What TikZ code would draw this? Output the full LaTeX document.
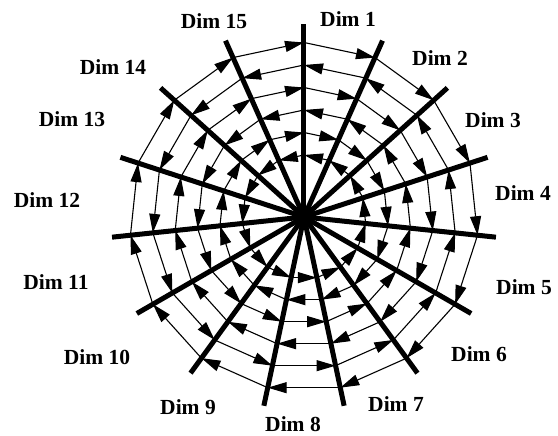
\documentclass[tikz,border=0pt]{standalone}
\usepackage{fontspec}
\setmainfont{Liberation Serif}
\usetikzlibrary{arrows.meta}

\begin{document}
\begin{tikzpicture}[
				x=1pt, y=1pt,
				spoke/.style={line width=5pt},
				ring/.style={line width=1.1pt, -{Triangle[length=19pt, width=11pt]}},
				dimlabel/.style={font=\fontsize{21.5}{24}\selectfont\bfseries, inner sep=0pt}
			]

			\useasboundingbox (-304,-219) rectangle (254,217);
			\coordinate (c) at (0,0);

			% spoke ends and ring corners
			\foreach \k in {1,...,15} {
				\coordinate (s\k) at ({114-24*\k}:193);
				\foreach \i/\r in {1/62,2/84.5,3/107,4/129.5,5/152,6/174.5}
					\coordinate (r\i-\k) at ({114-24*\k}:\r);
			}

			% rings, odd ones counter-clockwise
			\foreach \k [evaluate=\k as \nxt using {int(mod(\k,15)+1)}] in {1,...,15} {
				\foreach \i in {1,...,6} {
					\ifodd\i
						\draw[ring] (r\i-\nxt) -- (r\i-\k);
					\else
						\draw[ring] (r\i-\k) -- (r\i-\nxt);
					\fi
				}
			}

			\foreach \k in {1,...,15}
				\draw[spoke] (c) -- (s\k);

			\node[dimlabel] (d1) at (44,198) {Dim 1};
			\node[dimlabel] (d2) at (136,159) {Dim 2};
			\node[dimlabel] (d3) at (189,97) {Dim 3};
			\node[dimlabel] (d4) at (219,24) {Dim 4};
			\node[dimlabel] (d5) at (220,-70) {Dim 5};
			\node[dimlabel] (d6) at (175,-137) {Dim 6};
			\node[dimlabel] (d7) at (92,-187) {Dim 7};
			\node[dimlabel] (d8) at (-11,-207) {Dim 8};
			\node[dimlabel] (d9) at (-116,-190) {Dim 9};
			\node[dimlabel] (d10) at (-207,-140) {Dim 10};
			\node[dimlabel] (d11) at (-248,-65) {Dim 11};
			\node[dimlabel] (d12) at (-257,17) {Dim 12};
			\node[dimlabel] (d13) at (-232,98) {Dim 13};
			\node[dimlabel] (d14) at (-191,150) {Dim 14};
			\node[dimlabel] (d15) at (-90,196) {Dim 15};

		\end{tikzpicture}
\end{document}
